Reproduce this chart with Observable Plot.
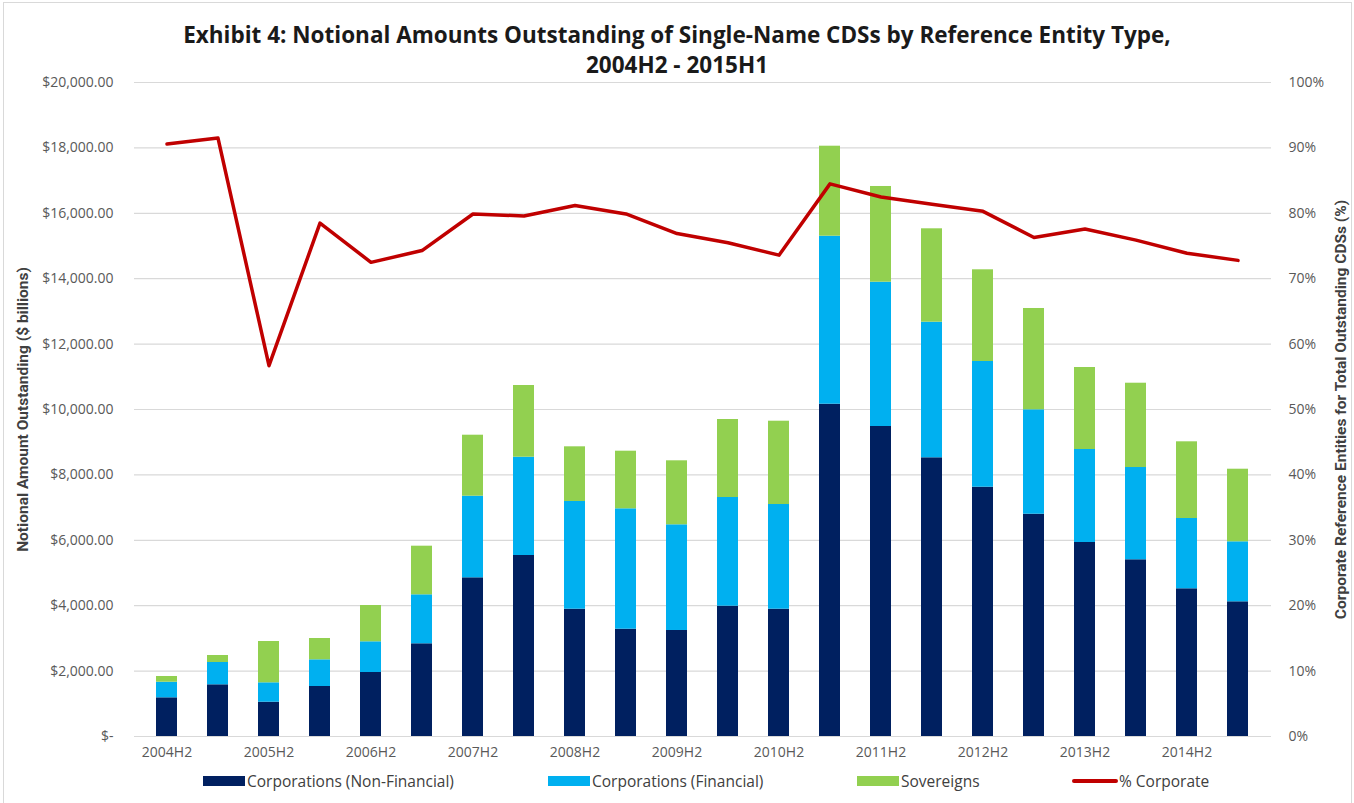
<!DOCTYPE html>
<html>
<head>
<meta charset="utf-8">
<script src="https://cdn.jsdelivr.net/npm/d3@7"></script>
<script src="https://cdn.jsdelivr.net/npm/@observablehq/plot@0.6"></script>
<style>
  html, body { margin: 0; padding: 0; background: #fff; }
  body { width: 1354px; height: 803px; position: relative; overflow: hidden; font-family: "Open Sans", Lato, sans-serif; }
  #frame { position: absolute; left: 3px; top: 2px; width: 1347px; height: 820px; border: 1px solid #d9d9d9; pointer-events: none; }
  #title { height: 70px; box-sizing: border-box; padding-top: 20px; text-align: center; font-family: "Open Sans", sans-serif; font-weight: bold; font-size: 22.5px; line-height: 30px; color: #1a1a1a; overflow: visible; }
  #chart svg { display: block; }
  #legend { position: relative; height: 30px; font-family: "Open Sans", sans-serif; font-size: 15.5px; color: #404040; }
  .item { position: absolute; top: 10px; display: flex; align-items: center; height: 20px; white-space: nowrap; }
  .sw { width: 42px; height: 10px; margin-right: 2px; }
  .ln { width: 46px; height: 4px; margin-right: 1px; border-radius: 2px; }
</style>
</head>
<body>
<div id="frame"></div>
<div id="title">Exhibit 4: Notional Amounts Outstanding of Single-Name CDSs by Reference Entity Type,<br>2004H2 - 2015H1</div>
<div id="chart"></div>
<div id="legend"></div>
<script>
const periods = ["2004H2","2005H1","2005H2","2006H1","2006H2","2007H1","2007H2","2008H1","2008H2","2009H1","2009H2","2010H1","2010H2","2011H1","2011H2","2012H1","2012H2","2013H1","2013H2","2014H1","2014H2","2015H1"];
const nonFinancial = [1183,1581,1049,1529,1957,2835,4853,5535,3893,3281,3242,3985,3893,10162,9480,8523,7624,6798,5933,5404,4517,4119];
const financial = [477,682,593,816,939,1498,2496,3006,3294,3682,3232,3324,3202,5138,4413,4147,3844,3193,2844,2822,2150,1835];
const sovereigns = [175,214,1263,652,1110,1487,1865,2193,1672,1762,1957,2385,2547,2752,2927,2856,2804,3098,2507,2578,2345,2220];
const pctCorporate = [90.6,91.5,56.7,78.5,72.5,74.3,79.9,79.6,81.2,79.9,76.9,75.5,73.6,84.5,82.5,81.4,80.3,76.3,77.6,75.9,73.9,72.8];

const seriesNames = ["Corporations (Non-Financial)","Corporations (Financial)","Sovereigns"];
const seriesColors = ["#002060","#00B0F0","#92D050"];
const lineName = "% Corporate";
const lineColor = "#C00000";
const leftTicks = [0,2000,4000,6000,8000,10000,12000,14000,16000,18000,20000];
const rightTicks = [0,10,20,30,40,50,60,70,80,90,100];
const leftTitle = "Notional Amount Outstanding ($ billions)";
const rightTitle = "Corporate Reference Entities for Total Outstanding CDSs (%)";

const seriesArrays = [nonFinancial, financial, sovereigns];
const bars = [];
periods.forEach((p, i) => {
  seriesNames.forEach((s, k) => bars.push({period: p, series: s, value: seriesArrays[k][i]}));
});
const pctRatio = 20000 / 100; // right axis 100% aligns with left $20,000
const line = periods.map((p, i) => ({period: p, pct: pctCorporate[i]}));

const fmtDollar = d => d === 0 ? "$-" : d3.format("$,.2f")(d);
const titleFont = "'Liberation Sans Narrow', 'Roboto', sans-serif";

const chart = Plot.plot({
  width: 1354,
  height: 691,
  marginTop: 12,
  marginBottom: 25,
  marginLeft: 134,
  marginRight: 83,
  style: {fontFamily: "'Open Sans', sans-serif", fontSize: "14px", color: "#595959", background: "transparent"},
  x: {domain: periods, paddingInner: 0.58, paddingOuter: 0.29},
  y: {domain: [0, 20000]},
  color: {domain: seriesNames, range: seriesColors},
  marks: [
    Plot.gridY(leftTicks, {stroke: "#D9D9D9", strokeOpacity: 1, strokeWidth: 1.2}),
    Plot.barY(bars, {x: "period", y: "value", fill: "series", order: seriesNames}),
    Plot.line(line, {x: "period", y: d => d.pct * pctRatio, stroke: lineColor, strokeWidth: 3.5, strokeLinejoin: "round"}),
    Plot.axisX(periods.filter((d, i) => i % 2 === 0), {tickSize: 0, tickPadding: 11, label: null, fontSize: 14, fill: "#595959"}),
    Plot.axisY(leftTicks, {anchor: "left", tickSize: 0, tickPadding: 21, tickFormat: fmtDollar, label: null, fontSize: 14, fill: "#595959"}),
    Plot.axisY(rightTicks.map(t => t * pctRatio), {anchor: "right", tickSize: 0, tickPadding: 17, tickFormat: d => Math.round(d / pctRatio) + "%", label: null, fontSize: 14, fill: "#595959", textAnchor: "start"}),
    Plot.text([leftTitle], {frameAnchor: "left", textAnchor: "middle", dx: -111, rotate: -90, fontFamily: titleFont, fontSize: 15.5, fontWeight: "bold", fill: "#404040"}),
    Plot.text([rightTitle], {frameAnchor: "right", textAnchor: "middle", dx: 70, rotate: -90, fontFamily: titleFont, fontSize: 15.5, fontWeight: "bold", fill: "#404040"})
  ]
});
document.getElementById("chart").appendChild(chart);

const legend = document.getElementById("legend");
const legendItems = [
  {name: seriesNames[0], color: seriesColors[0], left: 203, type: "sw"},
  {name: seriesNames[1], color: seriesColors[1], left: 548, type: "sw"},
  {name: seriesNames[2], color: seriesColors[2], left: 857, type: "sw"},
  {name: lineName, color: lineColor, left: 1072, type: "ln"}
];
legendItems.forEach(it => {
  const div = document.createElement("div");
  div.className = "item";
  div.style.left = it.left + "px";
  const sw = document.createElement("span");
  sw.className = it.type;
  sw.style.background = it.color;
  const tx = document.createElement("span");
  tx.textContent = it.name;
  div.appendChild(sw);
  div.appendChild(tx);
  legend.appendChild(div);
});
</script>
</body>
</html>
